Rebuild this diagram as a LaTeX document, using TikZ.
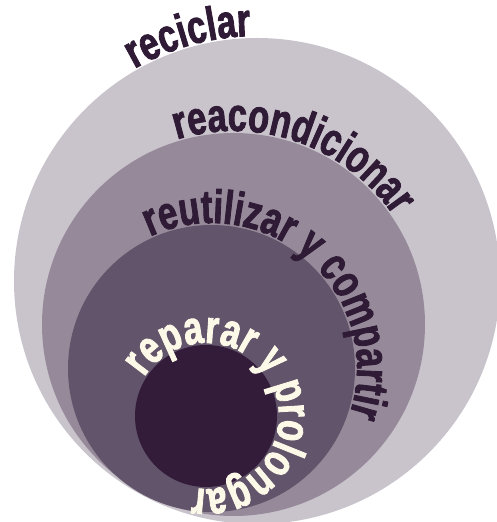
\documentclass[tikz,border=0pt]{standalone}
\usepackage{fontspec}
\newfontfamily\lblfont[FakeStretch=0.73,FakeBold=1.8]{Liberation Sans}
\usetikzlibrary{decorations.text}
\definecolor{ringA}{HTML}{C9C4CC}
\definecolor{ringB}{HTML}{968A9A}
\definecolor{ringC}{HTML}{62546A}
\definecolor{ringD}{HTML}{321C39}
\definecolor{txtdark}{HTML}{2F1B36}
\definecolor{txtlight}{HTML}{FDF9E8}
\newcommand{\darklbl}{\lblfont\bfseries\fontsize{47pt}{47pt}\selectfont\color{txtdark}}
\newcommand{\lightlbl}{\lblfont\bfseries\fontsize{47pt}{47pt}\selectfont\color{txtlight}}
\begin{document}
\begin{tikzpicture}[x=1pt,y=1pt,
  ring/.style={fill=#1, draw=none},
  ringtext/.style={decorate, decoration={text along path, text format delimiters={|}{|}, text={#1}}}]
\useasboundingbox (0,0) rectangle (497,522);
\clip (0,0) rectangle (497,522);
\coordinate (cA) at (257,241);
\coordinate (cB) at (233.5,197.5);
\coordinate (cC) at (211.5,153.5);
\coordinate (cD) at (206,106);
\fill[ring=ringA] (cA) circle[radius=243];
\fill[ring=ringB] (cB) circle[radius=191.5];
\fill[ring=ringC] (cC) circle[radius=143.5];
\fill[ring=ringD] (cD) circle[radius=71];
\path[ringtext={|\darklbl|reciclar}] (cA) ++(120:245) arc[start angle=120, end angle=-60, radius=245];
\path[ringtext={|\darklbl|reacondicionar}] (cB) ++(107:193.5) arc[start angle=107, end angle=-100, radius=193.5];
\path[ringtext={|\darklbl|reutilizar y compartir}] (cC) ++(115:145.5) arc[start angle=115, end angle=-120, radius=145.5];
\path[ringtext={|\lightlbl|reparar y prolongar}] (cD) ++(148:73) arc[start angle=148, end angle=-180, radius=73];
\end{tikzpicture}
\end{document}
